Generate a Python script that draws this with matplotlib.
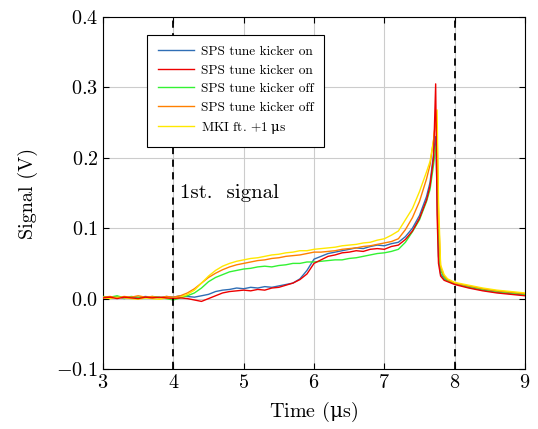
import matplotlib
matplotlib.use('Agg')
import matplotlib.pyplot as plt

plt.rcParams['font.family'] = ['cmr10', 'DejaVu Serif']
plt.rcParams['mathtext.fontset'] = 'custom'
plt.rcParams['mathtext.rm'] = 'cmr10'
plt.rcParams['mathtext.it'] = 'cmmi10'
plt.rcParams['mathtext.bf'] = 'cmb10'
plt.rcParams['mathtext.sf'] = 'DejaVu Serif'
plt.rcParams['mathtext.fallback'] = 'cm'
plt.rcParams['axes.formatter.use_mathtext'] = True

# time axis (us)
t = [3.0, 3.1, 3.2, 3.3, 3.4, 3.5, 3.6, 3.7, 3.8, 3.9,
     4.0, 4.1, 4.2, 4.3, 4.4, 4.5, 4.6, 4.7, 4.8, 4.9,
     5.0, 5.1, 5.2, 5.3, 5.4, 5.5, 5.6, 5.7, 5.8, 5.9,
     6.0, 6.1, 6.2, 6.3, 6.4, 6.5, 6.6, 6.7, 6.8, 6.9,
     7.0, 7.1, 7.2, 7.3, 7.4, 7.5, 7.6, 7.65, 7.7, 7.73,
     7.75, 7.77, 7.8, 7.85, 7.9, 8.0, 8.2, 8.4, 8.6, 8.8, 9.0]

on_blue = [0.002, 0.001, 0.003, 0.000, 0.002, 0.001, 0.003, 0.002, 0.001, 0.003,
           0.002, 0.004, 0.003, 0.002, 0.004, 0.006, 0.010, 0.012, 0.013, 0.015,
           0.014, 0.016, 0.015, 0.017, 0.016, 0.018, 0.020, 0.022, 0.028, 0.040,
           0.056, 0.060, 0.064, 0.066, 0.068, 0.070, 0.072, 0.071, 0.074, 0.076,
           0.075, 0.078, 0.080, 0.088, 0.100, 0.118, 0.145, 0.165, 0.205, 0.230,
           0.150, 0.060, 0.035, 0.028, 0.025, 0.021, 0.016, 0.012, 0.009, 0.007, 0.005]
on_red = [0.001, 0.002, 0.000, 0.002, 0.001, 0.000, 0.002, 0.001, 0.002, 0.001,
          0.000, 0.001, 0.000, -0.002, -0.004, 0.000, 0.004, 0.008, 0.010, 0.011,
          0.012, 0.011, 0.013, 0.012, 0.015, 0.016, 0.019, 0.022, 0.027, 0.035,
          0.050, 0.055, 0.060, 0.062, 0.065, 0.066, 0.068, 0.067, 0.070, 0.071,
          0.070, 0.074, 0.076, 0.084, 0.096, 0.114, 0.140, 0.160, 0.200, 0.305,
          0.120, 0.050, 0.032, 0.026, 0.024, 0.020, 0.015, 0.011, 0.008, 0.006, 0.004]
off_green = [0.003, 0.002, 0.004, 0.001, 0.003, 0.002, 0.001, 0.003, 0.002, 0.000,
             -0.002, 0.001, 0.004, 0.008, 0.015, 0.024, 0.030, 0.034, 0.038, 0.040,
             0.042, 0.043, 0.045, 0.046, 0.045, 0.047, 0.048, 0.050, 0.050, 0.052,
             0.052, 0.053, 0.054, 0.055, 0.055, 0.057, 0.058, 0.060, 0.062, 0.064,
             0.065, 0.067, 0.070, 0.080, 0.095, 0.112, 0.138, 0.155, 0.190, 0.215,
             0.220, 0.090, 0.040, 0.030, 0.025, 0.022, 0.017, 0.013, 0.010, 0.008, 0.006]
off_orange = [0.002, 0.003, 0.001, 0.003, 0.002, 0.004, 0.002, 0.003, 0.001, 0.003,
              0.002, 0.004, 0.008, 0.014, 0.022, 0.030, 0.036, 0.041, 0.045, 0.048,
              0.050, 0.052, 0.054, 0.055, 0.057, 0.058, 0.060, 0.061, 0.062, 0.064,
              0.066, 0.066, 0.067, 0.068, 0.070, 0.071, 0.072, 0.074, 0.075, 0.077,
              0.079, 0.081, 0.085, 0.098, 0.115, 0.138, 0.170, 0.190, 0.225, 0.255,
              0.240, 0.120, 0.045, 0.032, 0.027, 0.022, 0.018, 0.014, 0.011, 0.009, 0.007]
mki_yellow = [0.001, 0.000, 0.002, 0.001, 0.000, -0.001, 0.001, 0.000, -0.001, 0.001,
              0.000, 0.002, 0.006, 0.012, 0.022, 0.032, 0.040, 0.046, 0.050, 0.053,
              0.055, 0.057, 0.058, 0.060, 0.062, 0.063, 0.065, 0.066, 0.068, 0.068,
              0.070, 0.071, 0.072, 0.073, 0.075, 0.076, 0.077, 0.079, 0.080, 0.083,
              0.085, 0.090, 0.096, 0.112, 0.128, 0.152, 0.180, 0.195, 0.225, 0.250,
              0.268, 0.140, 0.048, 0.034, 0.028, 0.023, 0.019, 0.015, 0.012, 0.010, 0.008]

fig = plt.figure(figsize=(5.38, 4.29), dpi=100)
ax = fig.add_axes([0.1915, 0.1399, 0.7843, 0.8205])

lw = 1.0
h_blue, = ax.plot(t, on_blue, color='#2f6eb5', lw=lw, zorder=3, label='SPS tune kicker on')
h_green, = ax.plot(t, off_green, color='#33f233', lw=lw, zorder=3, label='SPS tune kicker off')
h_orange, = ax.plot(t, off_orange, color='#ff8000', lw=lw, zorder=3, label='SPS tune kicker off')
h_yellow, = ax.plot(t, mki_yellow, color='#ffe800', lw=lw, zorder=3,
                    label=r'MKI ft. $+1\;\mathsf{\mu}$s')
h_red, = ax.plot(t, on_red, color='#ee0000', lw=lw, zorder=4, label='SPS tune kicker on')

ax.axvline(4, color='black', ls=(0, (4, 3)), lw=1.3, zorder=5)
ax.axvline(8, color='black', ls=(0, (4, 3)), lw=1.3, zorder=5)
ax.text(4.1, 0.15, '1st.  signal', fontsize=15, va='center', ha='left')

ax.set_xlim(3, 9)
ax.set_ylim(-0.1, 0.4)
ax.set_xticks([3, 4, 5, 6, 7, 8, 9])
ax.set_yticks([-0.1, 0.0, 0.1, 0.2, 0.3, 0.4])
ax.grid(True, color='#cccccc', lw=0.8)
ax.set_axisbelow(True)
ax.tick_params(direction='in', top=True, right=True, labelsize=14.5, length=4)
for s in ax.spines.values():
    s.set_linewidth(0.8)
ax.set_xlabel(r'Time ($\mathsf{\mu}$s)', fontsize=14.5, labelpad=6)
ax.set_ylabel('Signal (V)', fontsize=14.5, labelpad=13)

leg = ax.legend(handles=[h_blue, h_red, h_green, h_orange, h_yellow],
                loc='upper left', bbox_to_anchor=(0.104, 0.949), borderaxespad=0,
                fontsize=9.6, fancybox=False, framealpha=1, edgecolor='black',
                handlelength=2.7, handletextpad=0.55, borderpad=0.8, labelspacing=0.47)
leg.get_frame().set_linewidth(0.8)

fig.savefig('out.png', dpi=100)
